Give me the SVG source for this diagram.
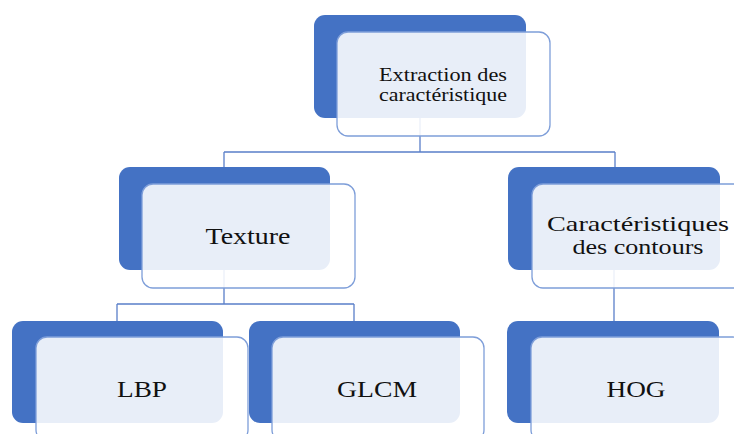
<svg xmlns="http://www.w3.org/2000/svg" width="734" height="434" viewBox="0 0 734 434">
<style>
.back{fill:#4472C4;}
.front{fill:#FFFFFF;fill-opacity:0.88;stroke:#7E9ED9;stroke-width:1.3;}
.conn{fill:none;stroke:#5A7FC9;stroke-width:1.3;}
.t{font-family:"Liberation Serif","Times New Roman",serif;fill:#111;text-anchor:middle;}
</style>
<rect width="734" height="434" fill="#FFFFFF"/>
<g id="connectors">
<path class="conn" d="M420,118 V152 M224,152 H615 M224,152 V167 M615,152 V167"/>
<path class="conn" d="M224,270 V304 M117,304 H354 M117,304 V321 M354,304 V321"/>
<path class="conn" d="M614,270 V321"/>
</g>
<g id="n-extraction">
<rect class="back" x="314" y="15" width="212" height="103" rx="11"/>
<rect class="front" x="337" y="32" width="213" height="104" rx="11"/>
<text class="t" font-size="19" x="443" y="81" textLength="128" lengthAdjust="spacingAndGlyphs">Extraction des</text>
<text class="t" font-size="19" x="443" y="101" textLength="128" lengthAdjust="spacingAndGlyphs">caractéristique</text>
</g>
<g id="n-texture">
<rect class="back" x="119" y="167" width="211" height="103" rx="11"/>
<rect class="front" x="142" y="184" width="213" height="104" rx="11"/>
<text class="t" font-size="24" x="248" y="244" textLength="85" lengthAdjust="spacingAndGlyphs">Texture</text>
</g>
<g id="n-contours">
<rect class="back" x="508" y="167" width="212" height="103" rx="11"/>
<rect class="front" x="532" y="184" width="213" height="104" rx="11"/>
<text class="t" font-size="21" x="638" y="231" textLength="182" lengthAdjust="spacingAndGlyphs">Caractéristiques</text>
<text class="t" font-size="21" x="638" y="254" textLength="131" lengthAdjust="spacingAndGlyphs">des contours</text>
</g>
<g id="n-lbp">
<rect class="back" x="12" y="321" width="211" height="102" rx="11"/>
<rect class="front" x="36" y="337" width="212" height="104" rx="11"/>
<text class="t" font-size="24" x="142" y="397" textLength="50" lengthAdjust="spacingAndGlyphs">LBP</text>
</g>
<g id="n-glcm">
<rect class="back" x="249" y="321" width="211" height="102" rx="11"/>
<rect class="front" x="272" y="337" width="212" height="104" rx="11"/>
<text class="t" font-size="24" x="377" y="397" textLength="80" lengthAdjust="spacingAndGlyphs">GLCM</text>
</g>
<g id="n-hog">
<rect class="back" x="507" y="321" width="212" height="102" rx="11"/>
<rect class="front" x="531" y="337" width="213" height="104" rx="11"/>
<text class="t" font-size="24" x="636" y="397" textLength="59" lengthAdjust="spacingAndGlyphs">HOG</text>
</g>
</svg>
